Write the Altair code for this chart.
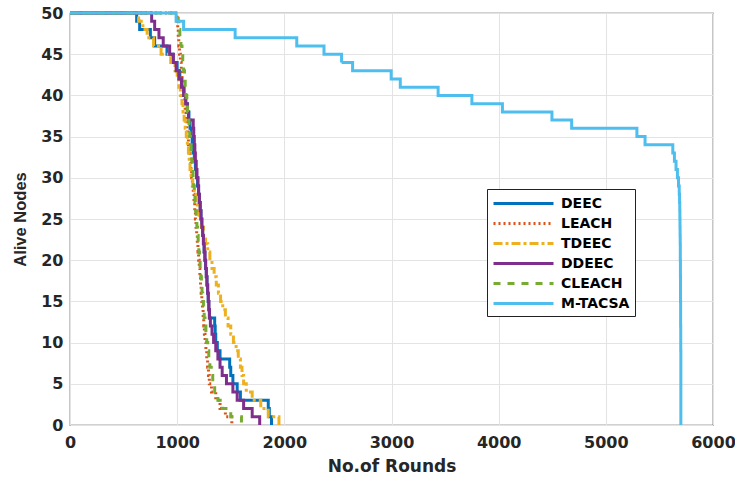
import altair as alt
import pandas as pd

names = ["DEEC", "LEACH", "TDEEC", "DDEEC", "CLEACH", "M-TACSA"]
colors = ["#0072BD", "#D95319", "#EDB120", "#7E2F8E", "#77AC30", "#4DBEEE"]
dashes = [[1, 0], [2, 3], [9, 3, 3, 3], [1, 0], [7, 7], [1, 0]]

# rounds at which one node dies (alive goes 50->49, 49->48, ... 1->0)
deec = [622, 650, 750, 790, 905, 960, 1000, 1025, 1045, 1065, 1080, 1095, 1110, 1120,
        1130, 1140, 1150, 1160, 1170, 1180, 1190, 1200, 1205, 1215, 1222, 1230, 1238,
        1245, 1252, 1258, 1265, 1272, 1278, 1285, 1290, 1295, 1300, 1350, 1355, 1360,
        1375, 1400, 1490, 1500, 1520, 1560, 1590, 1850, 1860, 1880]
leach = [1000, 1005, 1010, 1015, 1022, 1030, 1038, 1045, 1052, 1060, 1068, 1075, 1082,
         1090, 1097, 1105, 1112, 1120, 1128, 1135, 1142, 1150, 1157, 1164, 1170, 1176,
         1182, 1188, 1194, 1200, 1206, 1212, 1218, 1224, 1230, 1236, 1242, 1248, 1254,
         1260, 1268, 1276, 1284, 1292, 1300, 1320, 1360, 1400, 1450, 1510]
tdeec = [640, 680, 720, 780, 850, 940, 980, 1000, 1015, 1030, 1045, 1055, 1065, 1075,
         1085, 1095, 1105, 1112, 1120, 1130, 1145, 1160, 1175, 1190, 1205, 1225, 1245,
         1265, 1285, 1305, 1325, 1345, 1365, 1385, 1405, 1425, 1450, 1475, 1500, 1525,
         1550, 1570, 1590, 1605, 1620, 1645, 1700, 1780, 1850, 1950]
ddeec = [762, 790, 830, 870, 930, 965, 990, 1015, 1040, 1060, 1080, 1095, 1105, 1150,
         1155, 1160, 1165, 1170, 1178, 1185, 1195, 1200, 1208, 1215, 1222, 1230, 1238,
         1245, 1252, 1260, 1266, 1272, 1278, 1284, 1290, 1296, 1302, 1310, 1325, 1340,
         1360, 1380, 1400, 1420, 1460, 1520, 1560, 1620, 1700, 1770]
cleach = [1010, 1015, 1025, 1035, 1045, 1052, 1060, 1068, 1075, 1082, 1090, 1097, 1104,
          1110, 1117, 1124, 1130, 1136, 1142, 1148, 1154, 1160, 1166, 1172, 1178, 1184,
          1190, 1196, 1202, 1208, 1214, 1220, 1226, 1232, 1238, 1245, 1252, 1260, 1268,
          1276, 1285, 1295, 1305, 1318, 1332, 1350, 1380, 1420, 1500, 1600]
mtacsa = [990, 1060, 1541, 2116, 2370, 2534, 2637, 2997, 3082, 3435, 3750, 4035, 4497,
          4681, 5290, 5366, 5625, 5640, 5655, 5668, 5678, 5685, 5688, 5690, 5691, 5692,
          5693, 5694, 5695, 5695, 5696, 5696, 5697, 5697, 5697, 5698, 5698, 5698, 5699,
          5699, 5699, 5700, 5700, 5700, 5700, 5700, 5700, 5700, 5700, 5700]

series = [deec, leach, tdeec, ddeec, cleach, mtacsa]

rows = []
for s, (name, deaths) in enumerate(zip(names, series)):
    rows.append({"Protocol": name, "Rounds": 0, "Alive": 50, "idx": 0, "s": s})
    for i, r in enumerate(deaths):
        rows.append({"Protocol": name, "Rounds": r, "Alive": 49 - i, "idx": i + 1, "s": s})
df = pd.DataFrame(rows)

wide = "DejaVu Sans"
narrow = "Liberation Sans"
txt = "#262626"

chart = alt.Chart(df).mark_line(interpolate="step-after", strokeWidth=3).encode(
    x=alt.X("Rounds:Q", scale=alt.Scale(domain=[0, 6000], nice=False),
            axis=alt.Axis(title="No.of Rounds", values=[0, 1000, 2000, 3000, 4000, 5000, 6000],
                          format="d", labelFlush=False, labelPadding=9,
                          titleFont=wide, titleFontSize=17, titlePadding=8)),
    y=alt.Y("Alive:Q", scale=alt.Scale(domain=[0, 50], nice=False),
            axis=alt.Axis(title="Alive Nodes", values=list(range(0, 51, 5)),
                          labelFlush=False, labelPadding=7,
                          titleFont=narrow, titleFontSize=16.5, titlePadding=12)),
    color=alt.Color("Protocol:N", scale=alt.Scale(domain=names, range=colors),
                    legend=alt.Legend(title=None, orient="none", legendX=417, legendY=176,
                                      symbolType="M-1,0H6.5", symbolSize=256, symbolStrokeWidth=3,
                                      labelFont=wide, labelFontSize=14, labelFontWeight="bold",
                                      labelColor="black", strokeColor="#222222", fillColor="white",
                                      padding=5, rowPadding=3, labelOffset=50)),
    strokeDash=alt.StrokeDash("Protocol:N", scale=alt.Scale(domain=names, range=dashes)),
    detail="s:N",
    order=alt.Order("idx:Q"),
).properties(
    width=643, height=412,
    autosize=alt.AutoSizeParams(type="none"),
    padding={"left": 70, "top": 13, "right": 22, "bottom": 54},
).configure_view(
    stroke="#444444", strokeWidth=1.2
).configure_axis(
    grid=True, gridColor="#e3e3e3", gridWidth=1,
    domain=False, ticks=False,
    labelFont=wide, labelFontSize=16, labelFontWeight="bold", labelColor=txt,
    titleFontWeight="bold", titleColor=txt,
)

chart.save("out.html", embed_options={"renderer": "svg", "actions": False})
